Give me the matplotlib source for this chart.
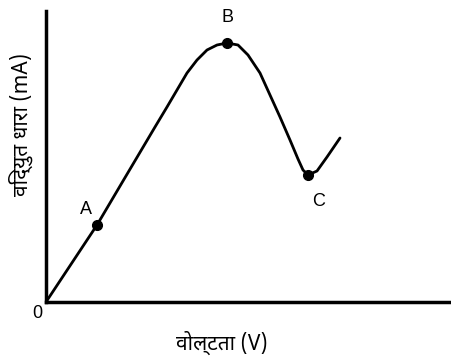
import matplotlib
matplotlib.use("Agg")
import matplotlib.pyplot as plt

# curve (voltage, current), arbitrary units
volt = [0, 51, 77, 109, 121, 131, 141, 151, 161, 171, 181, 192, 202, 214, 224, 234, 244, 252, 257, 262, 271, 281, 294]
curr = [0, 77, 121, 175, 195, 212, 229, 242, 252, 257, 259, 257, 247, 229, 207, 185, 162, 143, 132, 127, 131, 145, 164]

pt_names = ["A", "B", "C"]
pt_volt = [51, 181, 262]
pt_curr = [77, 259, 127]

xlabel = "वोल्टता (V)"
ylabel = "विद्युत धारा (mA)"
deva = ["Noto Sans Devanagari", "Hind", "Mukta", "DejaVu Sans"]
latin = ["Liberation Sans", "DejaVu Sans"]

fig = plt.figure(figsize=(4.52, 3.6), dpi=100)
ax = fig.add_axes([46 / 452, 58 / 360, 406 / 452, 291 / 360])
ax.set_xlim(0, 406)
ax.set_ylim(0, 291)

ax.plot(volt, curr, color="black", lw=2.0, solid_capstyle="round", solid_joinstyle="round")
ax.plot(pt_volt, pt_curr, "o", color="black", ms=7)

offsets = {"A": (-11, 15), "B": (1, 25), "C": (11, -26)}
for n, x, y in zip(pt_names, pt_volt, pt_curr):
    dx, dy = offsets[n]
    ax.text(x + dx, y + dy, n, ha="center", va="center", fontsize=13, family=latin)
ax.text(-9, -11, "0", ha="center", va="center", fontsize=13, family=latin)

for s in ["top", "right"]:
    ax.spines[s].set_visible(False)
for s in ["left", "bottom"]:
    ax.spines[s].set_linewidth(2.5)
ax.set_xticks([])
ax.set_yticks([])

fig.text(222 / 452, 1 - 343 / 360, xlabel, ha="center", va="center", fontsize=15,
         fontweight="bold", family=deva)
fig.text(21 / 452, 1 - 125 / 360, ylabel, ha="center", va="center", rotation=90,
         fontsize=15, fontweight="bold", family=deva)

fig.savefig("out.png", dpi=100)
